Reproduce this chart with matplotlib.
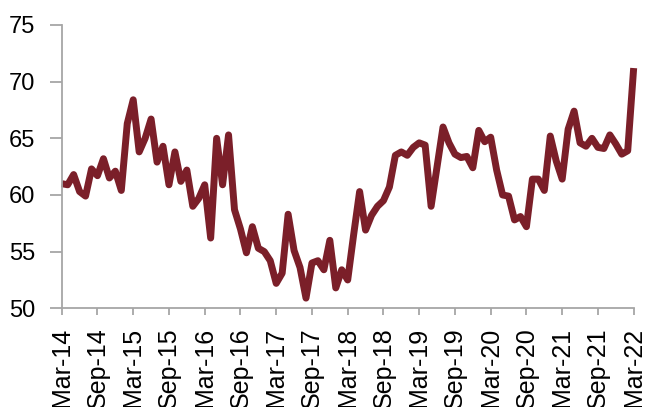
import numpy as np
import matplotlib.pyplot as plt
from matplotlib import font_manager

plt.rcParams["font.family"] = ["Liberation Sans", "DejaVu Sans"]

# monthly index values, Mar-14 .. Mar-22
index_values = [
    61.0, 60.9, 61.8, 60.3, 59.9, 62.3, 61.7, 63.2, 61.5, 62.1,
    60.4, 66.3, 68.4, 63.8, 65.0, 66.7, 62.9, 64.3, 60.9, 63.8,
    61.2, 62.2, 59.0, 59.7, 60.9, 56.2, 65.0, 60.9, 65.3, 58.7,
    57.0, 54.9, 57.2, 55.3, 55.0, 54.2, 52.2, 53.1, 58.3, 55.1,
    53.6, 50.9, 54.0, 54.2, 53.4, 56.0, 51.8, 53.4, 52.5, 56.5,
    60.3, 56.9, 58.2, 59.0, 59.5, 60.7, 63.5, 63.8, 63.5, 64.2,
    64.6, 64.4, 59.0, 62.5, 66.0, 64.6, 63.6, 63.3, 63.4, 62.4,
    65.7, 64.7, 65.1, 62.2, 60.0, 59.9, 57.8, 58.1, 57.2, 61.4,
    61.4, 60.4, 65.2, 63.0, 61.4, 65.8, 67.4, 64.6, 64.3, 65.0,
    64.2, 64.1, 65.3, 64.5, 63.6, 63.9, 71.2,
]
tick_labels = [
    "Mar-14", "Sep-14", "Mar-15", "Sep-15", "Mar-16", "Sep-16",
    "Mar-17", "Sep-17", "Mar-18", "Sep-18", "Mar-19", "Sep-19",
    "Mar-20", "Sep-20", "Mar-21", "Sep-21", "Mar-22",
]
y_ticks = [50, 55, 60, 65, 70, 75]

months = np.arange(len(index_values))

# tall, narrow digits on the value axis
installed = {f.name for f in font_manager.fontManager.ttflist}
if "Liberation Sans Narrow" in installed:
    y_font, y_size = "Liberation Sans Narrow", 20
else:
    y_font, y_size = "Liberation Sans", 17

fig = plt.figure(figsize=(6.47, 4.07), dpi=100)
ax = fig.add_axes([0.0954, 0.2425, 0.884, 0.6961])

ax.plot(months, index_values, color="#7b1f29", linewidth=5.0,
        solid_joinstyle="round", solid_capstyle="butt", clip_on=False)

ax.set_xlim(0, len(index_values) - 1)
ax.set_ylim(50, 75)
ax.set_yticks(y_ticks)
ax.set_yticklabels([str(v) for v in y_ticks], family=[y_font, "DejaVu Sans"],
                   fontsize=y_size)
ax.set_xticks(months[::6])
ax.set_xticklabels(tick_labels, rotation=90, fontsize=18)

for side in ["top", "right"]:
    ax.spines[side].set_visible(False)
for side in ["left", "bottom"]:
    ax.spines[side].set_color("#a6a6a6")
    ax.spines[side].set_linewidth(1.3)

ax.tick_params(axis="y", direction="out", length=8.6, width=1.3,
               color="#a6a6a6", pad=10.5)
ax.tick_params(axis="x", direction="out", length=5, width=1.3,
               color="#a6a6a6", pad=9)

fig.savefig("out.png", dpi=100)
